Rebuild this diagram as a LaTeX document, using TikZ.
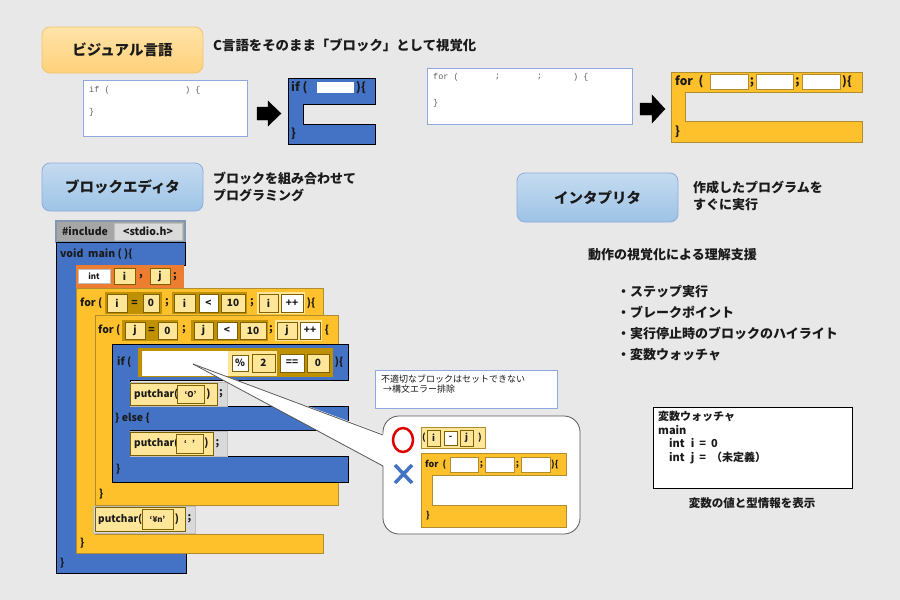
\documentclass[tikz,border=0pt]{standalone}
\usepackage{fontspec}
\setmainfont{Noto Sans CJK JP}
\newfontfamily\codefont{Liberation Mono}
\usetikzlibrary{calc}
\definecolor{bggrey}{HTML}{E8E8E8}
\definecolor{blockblue}{HTML}{4472C4}
\definecolor{blockgold}{HTML}{FFC12B}
\definecolor{goldedge}{HTML}{B08D2F}
\definecolor{blockorange}{HTML}{ED7D31}
\definecolor{groupgold}{HTML}{BF9000}
\definecolor{slottan}{HTML}{FFE699}
\definecolor{slotedge}{HTML}{7F6000}
\definecolor{codeedge}{HTML}{8EA9DB}
\definecolor{codegrey}{HTML}{606060}
\definecolor{stripgrey}{HTML}{D9D9D9}
\definecolor{stripedge}{HTML}{BFBFBF}
\definecolor{incdark}{HTML}{A6A6A6}
\definecolor{inclight}{HTML}{DADADA}
\definecolor{incedge}{HTML}{8497B0}
\definecolor{bubbleedge}{HTML}{595959}
\definecolor{notered}{HTML}{E00000}
\definecolor{inkblack}{HTML}{1A1A1A}
\definecolor{orangetop}{HTML}{FFE3A8}
\definecolor{orangebottom}{HTML}{FFD17A}
\definecolor{orangeedge}{HTML}{F2C46E}
\definecolor{bluetop}{HTML}{C5DBF0}
\definecolor{bluebottom}{HTML}{9DC3E6}
\definecolor{blueedge}{HTML}{8FAADC}
\tikzset{
  slot/.style={draw=slotedge, fill=slottan, line width=0.8pt, inner sep=0pt, text=inkblack, font=\bfseries\fontsize{10}{11}\selectfont},
  opbox/.style={slot, fill=white},
  slotsmall/.style={slot, font=\bfseries\fontsize{8}{9}\selectfont},
  kw/.style={inner sep=0pt, text=inkblack, font=\bfseries\fontsize{10.5}{12}\selectfont},
  kwbig/.style={kw, font=\bfseries\fontsize{12}{13}\selectfont},
  kwsmall/.style={kw, font=\bfseries\fontsize{9}{10}\selectfont},
  code/.style={inner sep=0pt, anchor=west, text=codegrey, font=\codefont\fontsize{8.5}{9}\selectfont},
  note/.style={inner sep=0pt, anchor=west, align=left, text=inkblack, font=\bfseries\fontsize{13}{17}\selectfont},
  bullets/.style={note, font=\bfseries\fontsize{13}{21}\selectfont},
  button/.style={rounded corners=8pt, line width=0.8pt, inner sep=0pt, text=inkblack, font=\bfseries\fontsize{14.5}{16}\selectfont},
  btnorange/.style={button, draw=orangeedge, top color=orangetop, bottom color=orangebottom},
  btnblue/.style={button, draw=blueedge, top color=bluetop, bottom color=bluebottom},
  blueblk/.style={fill=blockblue},
  goldblk/.style={fill=blockgold, draw=goldedge, line width=0.6pt},
  codebox/.style={fill=white, draw=codeedge, line width=0.8pt},
  strip/.style={fill=stripgrey, draw=stripedge, line width=0.5pt},
  tail/.style={draw=bubbleedge, line width=0.8pt},
  watchtext/.style={inner sep=0pt, anchor=north west, align=left, text=inkblack, font=\bfseries\fontsize{11}{13.6}\selectfont}
}
\def\bx[#1]#2(#3,#4)(#5,#6)#7{\node[#1, minimum width={(#5-#3)*1pt}, minimum height={(#6-#4)*1pt}] (#2) at ({(#3+#5)/2},{(#4+#6)/2}) {#7};}
\def\cblock[#1](#2,#3)(#4,#5)(#6,#7)(#8,#9){\draw[#1] (#2,#3) -- (#4,#3) -- (#4,#5) -- (#6,#5) -- (#6,#7) -- (#8,#7) -- (#8,#9) -- (#2,#9) -- cycle;}
\begin{document}
\begin{tikzpicture}[x=1pt, y=-1pt]
		%%%%% START %%%%%
		\fill[bggrey] (0,0) rectangle (900,600);
		\useasboundingbox (0,0) rectangle (900,600);
		
		% visual language
		\bx[btnorange]{visual}(42,27)(203,73){ビジュアル言語}
		\node[note, font=\bfseries\fontsize{13.4}{15}\selectfont] (visualnote) at (213,45) {C言語をそのまま「ブロック」として視覚化};
		
		\draw[codebox] (83,80) rectangle (247,136);
		\node[code] (ifcode) at (89,90) {if (};
		\node[code] (ifcodeend) at (185,90) {) \{};
		\node[code] (ifcodeclose) at (89,112) {\}};
		\draw[fill=black] (257,107) -- (268,107) -- (268,101) -- (281,113.5) -- (268,126) -- (268,120) -- (257,120) -- cycle;
		
		\cblock[blueblk](288,78)(375,104)(303,124)(375,144)
		\draw[fill=white, draw=none] (317,82) rectangle (354,93);
		\node[kwbig, anchor=west] (iftop) at (291,88) {if (};
		\node[kwbig, anchor=west] (iftopend) at (356,88) {)\{};
		\node[kwbig, anchor=west] (iftopclose) at (291,134) {\}};
		
		\draw[codebox] (427,68) rectangle (632,124);
		\node[code] (forcode) at (433,77) {for (};
		\node[code] (forcodea) at (495,77) {;};
		\node[code] (forcodeb) at (537,77) {;};
		\node[code] (forcodeend) at (573,77) {) \{};
		\node[code] (forcodeclose) at (433,103) {\}};
		\draw[fill=black] (640,103) -- (652,103) -- (652,95) -- (665,109) -- (652,123) -- (652,115) -- (640,115) -- cycle;
		
		\cblock[goldblk](671,72)(862,92)(685,121)(862,142)
		\draw[fill=white, draw=goldedge] (710,74) rectangle (748,89);
		\draw[fill=white, draw=goldedge] (756,74) rectangle (793,89);
		\draw[fill=white, draw=goldedge] (802,74) rectangle (840,89);
		\node[kwbig, anchor=west] (fortop) at (675,82) {for~~(};
		\node[kwbig] (fortopa) at (752,82) {;};
		\node[kwbig] (fortopb) at (797.5,82) {;};
		\node[kwbig, anchor=west] (fortopend) at (842,82) {)\{};
		\node[kwbig, anchor=west] (fortopclose) at (675,132) {\}};
		
		% block editor
		\bx[btnblue]{editor}(42,163)(203,211){ブロックエディタ}
		\node[note] (editornote) at (213,186.5) {ブロックを組み合わせて\\プログラミング};
		
		\draw[fill=incdark, draw=incedge, line width=1.2pt] (56,221) rectangle (185,242);
		\draw[fill=inclight, draw=stripedge] (114,223) rectangle (182,240);
		\node[kw] (include) at (85,231.5) {\#include};
		\node[kw] (stdio) at (148,231.5) {<stdio.h>};
		
		\cblock[blueblk](56,242)(185,265)(76,553)(186,573)
		\node[kw, anchor=west] (mainhead) at (60,254) {void~~main ( )\{};
		\node[kw, anchor=west] (mainclose) at (60,563) {\}};
		
		\fill[blockorange] (76,265) rectangle (184,288);
		\bx[opbox, draw=stripedge, font=\bfseries\fontsize{8}{9}\selectfont]{inttype}(78,269)(110,283){int}
		\bx[slot]{vari}(114,268)(135,284){i}
		\node[kw] (comma) at (141,277) {,};
		\bx[slot]{varj}(150,268)(170,284){j}
		\node[kw] (semi) at (175,277) {;};
		
		% outer for
		\cblock[goldblk](76,288)(323,315)(95,534)(323,553)
		\node[kw, anchor=west] (forA) at (80,303) {for (};
		\fill[groupgold] (105,292) rectangle (162,314);
		\bx[slot]{forAi}(107,294)(127,312){i}
		\node[kw] (forAeq) at (134.5,303) {=};
		\bx[slot]{forAzero}(143,294)(159,312){0}
		\node[kw] (forAsa) at (167,303) {;};
		\fill[groupgold] (172,292) rectangle (247,314);
		\bx[slot]{forAi2}(174,294)(195,312){i}
		\bx[opbox]{forAlt}(199,294)(218,312){<}
		\bx[slot]{forAten}(221,294)(245,312){10}
		\node[kw] (forAsb) at (252,303) {;};
		\fill[slottan] (257,292) rectangle (305,314);
		\bx[slot]{forAi3}(259,294)(278,312){i}
		\bx[opbox]{forAinc}(281,294)(303,312){++}
		\node[kw] (forAend) at (311,303) {)\{};
		\node[kw, anchor=west] (forAclose) at (80,543) {\}};
		
		% inner for
		\cblock[goldblk](95,315)(338,344)(112,482)(338,505)
		\node[kw, anchor=west] (forB) at (98,330) {for (};
		\fill[groupgold] (122,320) rectangle (178,341);
		\bx[slot]{forBj}(125,322)(145,339){j}
		\node[kw] (forBeq) at (151.5,330) {=};
		\bx[slot]{forBzero}(158,322)(177,339){0}
		\node[kw] (forBsa) at (184,330) {;};
		\fill[groupgold] (191,320) rectangle (268,341);
		\bx[slot]{forBj2}(194,322)(213,339){j}
		\bx[opbox]{forBlt}(217,322)(237,339){<}
		\bx[slot]{forBten}(240,322)(266,339){10}
		\node[kw] (forBsb) at (271,330) {;};
		\fill[slottan] (275,320) rectangle (322,341);
		\bx[slot]{forBj3}(277,322)(297,339){j}
		\bx[opbox]{forBinc}(300,322)(320,339){++}
		\node[kw] (forBend) at (327,330) {\{};
		\node[kw, anchor=west] (forBclose) at (99,494) {\}};
		
		% if else
		\draw[blueblk] (112,344) -- (348,344) -- (348,380) -- (130,380) -- (130,406) -- (348,406) -- (348,430) -- (130,430) -- (130,456) -- (348,456) -- (348,482) -- (112,482) -- cycle;
		\node[kw, anchor=west] (ifhead) at (117,362) {if (};
		\fill[groupgold] (138,348) rectangle (333,377);
		\bx[opbox, draw=none]{condslot}(142,351)(228,376){}
		\fill[slottan] (228,351) rectangle (277,376);
		\bx[opbox]{mod}(232,355)(248,371){\%}
		\bx[slot]{two}(252,354)(275,372){2}
		\bx[opbox]{eqeq}(280,354)(304,372){==}
		\bx[slot]{zero}(307,354)(329,372){0}
		\node[kw] (ifend) at (339,362) {)\{};
		
		\draw[strip] (130,382) rectangle (227,406);
		\draw[fill=slottan, draw=slotedge, line width=0.6pt] (130,383) rectangle (217,405);
		\node[kw, anchor=west, font=\bfseries\fontsize{10}{11}\selectfont] (putO) at (134,394) {putchar(};
		\bx[slotsmall]{charO}(177,385)(204,403){`O'}
		\node[kw] (putOend) at (208.5,394) {)};
		\node[kw] (putOsemi) at (221,394) {;};
		\node[kw, anchor=west] (elsebar) at (115,418) {\} else \{};
		
		\draw[strip] (130,431) rectangle (227,456);
		\draw[fill=slottan, draw=slotedge, line width=0.6pt] (130,432) rectangle (213,455);
		\node[kw, anchor=west, font=\bfseries\fontsize{10}{11}\selectfont] (putsp) at (134,443.5) {putchar(};
		\bx[slotsmall]{charsp}(176,434)(203,453){`\hspace{5pt}'}
		\node[kw] (putspend) at (206.5,443.5) {)};
		\node[kw] (putspsemi) at (217.5,443.5) {;};
		\node[kw, anchor=west] (ifclose) at (116,469) {\}};
		
		\draw[strip] (93,506) rectangle (195,533);
		\draw[fill=slottan, draw=slotedge, line width=0.6pt] (95,507) rectangle (185,531);
		\node[kw, anchor=west, font=\bfseries\fontsize{10}{11}\selectfont] (putnl) at (98,519) {putchar(};
		\bx[slotsmall]{charnl}(142,509)(173,529){`¥n'}
		\node[kw] (putnlend) at (177,519) {)};
		\node[kw] (putnlsemi) at (189.5,519) {;};
		
		% callout
		\draw[codebox] (375,370) rectangle (557,408);
		\node[inner sep=0pt, anchor=north west, align=left, text=inkblack, font=\fontsize{9}{10}\selectfont] (rule) at (381,375) {不適切なブロックはセットできない\\\hspace*{2pt}→構文エラー排除};
		
		\draw[fill=white, draw=bubbleedge, line width=0.8pt, rounded corners=16pt] (383,416) rectangle (580,534);
		\coordinate (tailtip) at (193,364);
		\coordinate (tailtop) at (383,435);
		\coordinate (tailbot) at (383,466);
		\fill[white] (tailtip) -- ($(tailtop)+(2,-0.5)$) -- ($(tailbot)+(2,0.5)$) -- cycle;
		\draw[tail] (tailtip) -- (tailtop);
		\draw[tail] (tailtip) -- (tailbot);
		
		\draw[notered, line width=2.5pt] (403,440) ellipse (10pt and 12pt);
		\draw[blockblue, line width=3.5pt] (395,465) -- (412,483) (412,465) -- (395,483);
		
		\draw[fill=slottan, draw=goldedge, line width=0.6pt] (421,427) rectangle (485,448);
		\node[kwsmall] (diffopen) at (424,437.5) {(};
		\bx[slot, font=\bfseries\fontsize{9}{10}\selectfont]{diffi}(427,430)(440,446){i}
		\bx[opbox, font=\bfseries\fontsize{9}{10}\selectfont]{diffminus}(444,431)(457,445){-}
		\bx[slot, font=\bfseries\fontsize{9}{10}\selectfont]{diffj}(460,430)(473,446){j}
		\node[kwsmall] (diffclose) at (480,437.5) {)};
		
		\cblock[goldblk](421,453)(566,475)(432,505)(566,527)
		\draw[fill=white, draw=goldedge] (450,457) rectangle (478,472);
		\draw[fill=white, draw=goldedge] (485,457) rectangle (514,472);
		\draw[fill=white, draw=goldedge] (521,457) rectangle (550,472);
		\node[kwsmall, anchor=west] (badfor) at (425,464.5) {for~~(};
		\node[kwsmall] (badfora) at (481.5,464.5) {;};
		\node[kwsmall] (badforb) at (517.5,464.5) {;};
		\node[kwsmall, anchor=west] (badforend) at (551,464.5) {)\{};
		\node[kwsmall, anchor=west] (badforclose) at (426,516) {\}};
		
		% interpreter
		\bx[btnblue]{interp}(517,173)(678,222){インタプリタ}
		\node[note] (interpnote) at (693,195.5) {作成したプログラムを\\すぐに実行};
		\node[note] (support) at (588,255) {動作の視覚化による理解支援};
		\node[bullets] (features) at (617,323.5) {・ステップ実行\\・ブレークポイント\\・実行停止時のブロックのハイライト\\・変数ウォッチャ};
		
		\draw[fill=white, draw=black, line width=1pt] (653,407) rectangle (852,488);
		\node[watchtext] (watch) at (658,411) {変数ウォッチャ\\main\\\hspace*{11pt}int\hspace{6pt}i\hspace{5pt}=\hspace{5pt}0\\\hspace*{11pt}int\hspace{6pt}j\hspace{5pt}=\hspace{5pt}（未定義）};
		\node[inner sep=0pt, text=inkblack, font=\bfseries\fontsize{11.5}{13}\selectfont] (watchnote) at (752,503) {変数の値と型情報を表示};
		
		%%%%% END %%%%%
\end{tikzpicture}
\end{document}
